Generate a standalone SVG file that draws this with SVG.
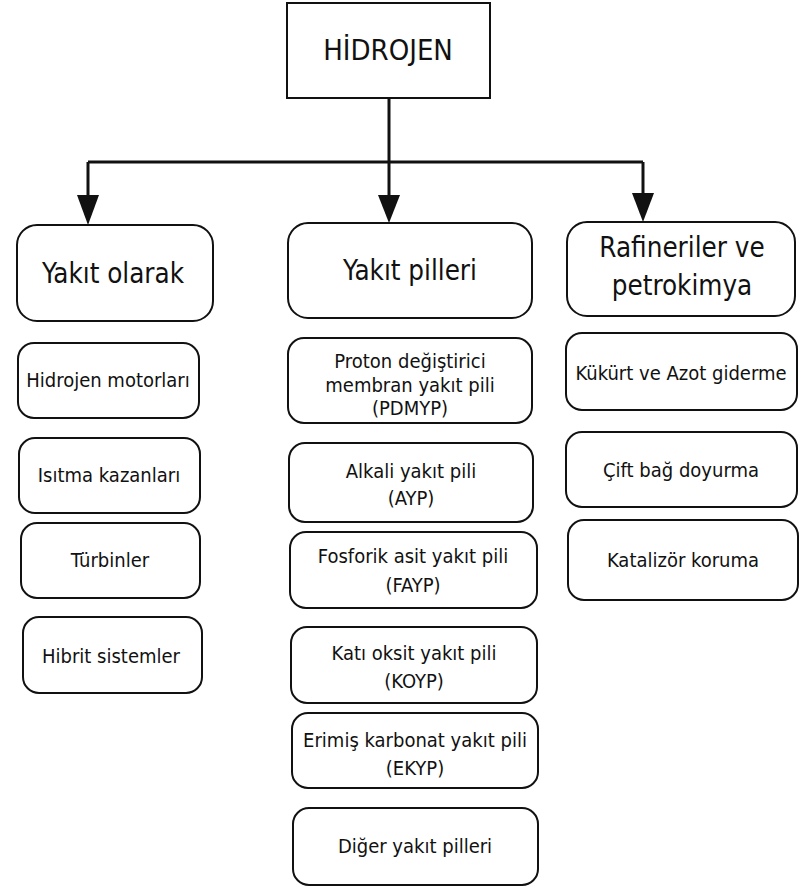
<svg xmlns="http://www.w3.org/2000/svg" width="809" height="889" viewBox="0 0 809 889">
<defs>
<style>
.b{fill:#fff;stroke:#111;stroke-width:2}
.t{font-family:"DejaVu Sans Condensed","DejaVu Sans",sans-serif;fill:#111;text-anchor:middle}
.l{font-size:27.5px}
.s{font-size:20px}
.c{fill:none;stroke:#111;stroke-width:3}
</style>
</defs>
<rect width="809" height="889" fill="#fff"/>
<g id="connectors">
<path class="c" d="M389,98 V162"/>
<path class="c" d="M88,162 H643"/>
<path class="c" d="M88,162 V196"/>
<path class="c" d="M389,162 V196"/>
<path class="c" d="M643,162 V196"/>
<path d="M77,195 L99,195 L88,225 Z" fill="#111"/>
<path d="M378,195 L400,195 L389,223 Z" fill="#111"/>
<path d="M632,193 L654,193 L643,222 Z" fill="#111"/>
</g>
<g id="hidrojen"><rect class="b" x="287" y="3" width="203" height="95"/><text class="t" x="388" y="60" style="font-size:29px">HİDROJEN</text></g>
<g id="yakit-olarak"><rect class="b" x="17" y="225" width="196" height="96" rx="20"/><text class="t l" x="113" y="283">Yakıt olarak</text></g>
<g id="yakit-pilleri"><rect class="b" x="288" y="223" width="244" height="95" rx="20"/><text class="t l" x="410" y="280">Yakıt pilleri</text></g>
<g id="rafineriler"><rect class="b" x="567" y="222" width="228" height="94" rx="20"/><text class="t l" x="682" y="257">Rafineriler ve</text><text class="t l" x="682" y="295">petrokimya</text></g>
<g id="hidrojen-motorlari"><rect class="b" x="18" y="343" width="181" height="75" rx="16"/><text class="t s" x="108" y="387">Hidrojen motorları</text></g>
<g id="isitma"><rect class="b" x="19" y="438" width="181" height="75" rx="16"/><text class="t s" x="109" y="482">Isıtma kazanları</text></g>
<g id="turbinler"><rect class="b" x="21" y="523" width="179" height="75" rx="16"/><text class="t s" x="110" y="567">Türbinler</text></g>
<g id="hibrit"><rect class="b" x="23" y="617" width="179" height="76" rx="16"/><text class="t s" x="111" y="663">Hibrit sistemler</text></g>
<g id="pdmyp"><rect class="b" x="288" y="338" width="244" height="85" rx="16"/><text class="t s" x="410" y="368">Proton değiştirici</text><text class="t s" x="410" y="392">membran yakıt pili</text><text class="t s" x="410" y="415">(PDMYP)</text></g>
<g id="ayp"><rect class="b" x="289" y="443" width="244" height="79" rx="16"/><text class="t s" x="411" y="478">Alkali yakıt pili</text><text class="t s" x="411" y="505">(AYP)</text></g>
<g id="fayp"><rect class="b" x="290" y="532" width="247" height="76" rx="16"/><text class="t s" x="413" y="563">Fosforik asit yakıt pili</text><text class="t s" x="413" y="592">(FAYP)</text></g>
<g id="koyp"><rect class="b" x="291" y="627" width="246" height="76" rx="16"/><text class="t s" x="414" y="660">Katı oksit yakıt pili</text><text class="t s" x="414" y="688">(KOYP)</text></g>
<g id="ekyp"><rect class="b" x="292" y="713" width="246" height="75" rx="16"/><text class="t s" x="415" y="747">Erimiş karbonat yakıt pili</text><text class="t s" x="415" y="775">(EKYP)</text></g>
<g id="diger"><rect class="b" x="293" y="808" width="245" height="77" rx="16"/><text class="t s" x="415" y="853">Diğer yakıt pilleri</text></g>
<g id="kukurt"><rect class="b" x="566" y="333" width="231" height="77" rx="16"/><text class="t s" x="681" y="380">Kükürt ve Azot giderme</text></g>
<g id="cift-bag"><rect class="b" x="566" y="432" width="231" height="75" rx="16"/><text class="t s" x="681" y="477">Çift bağ doyurma</text></g>
<g id="katalizor"><rect class="b" x="568" y="520" width="230" height="80" rx="16"/><text class="t s" x="683" y="567">Katalizör koruma</text></g>
</svg>
